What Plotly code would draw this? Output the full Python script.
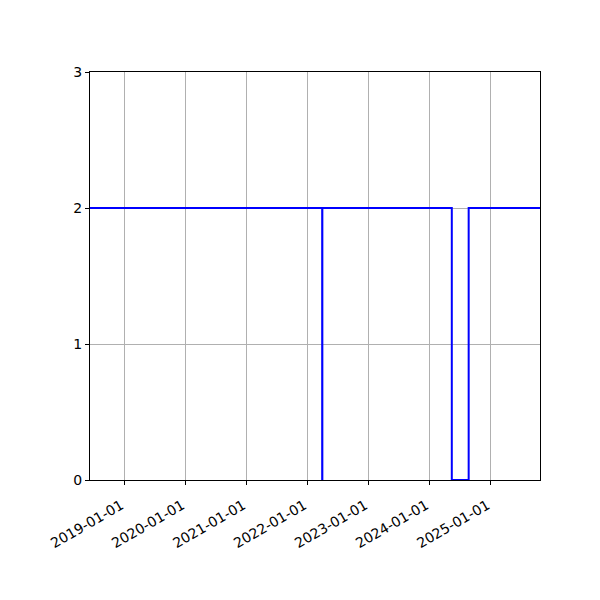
import plotly.graph_objects as go

dates = ["2018-06-10", "2022-03-31", "2022-04-01", "2024-05-15", "2024-08-24", "2025-10-25"]
values = [2, 0, 2, 0, 2, 2]
tick_dates = ["2019-01-01", "2020-01-01", "2021-01-01", "2022-01-01",
              "2023-01-01", "2024-01-01", "2025-01-01"]
y_ticks = [0, 1, 2, 3]

fig = go.Figure()
fig.add_trace(go.Scatter(x=dates, y=values, mode="lines", line_shape="hv",
                         line=dict(color="#0000ff", width=2), showlegend=False))

font = dict(family="DejaVu Sans", size=14, color="black")
fig.update_layout(
    width=600, height=600,
    margin=dict(l=82, r=68, t=64, b=128, autoexpand=False),
    plot_bgcolor="white", paper_bgcolor="white",
    font=font,
    xaxis=dict(range=[dates[0], dates[-1]], tickvals=tick_dates, ticktext=tick_dates,
               tickangle=-30, showgrid=True, gridcolor="#b0b0b0", gridwidth=1,
               showline=True, linecolor="black", linewidth=1, mirror=True,
               ticks="outside", ticklen=4, tickcolor="black", zeroline=False,
               ticklabelstandoff=7, ticklabelshift=-3),
    yaxis=dict(range=[0, 3], tickvals=y_ticks, showgrid=True, gridcolor="#b0b0b0",
               gridwidth=1, showline=True, linecolor="black", linewidth=1, mirror=True,
               ticks="outside", ticklen=4, tickcolor="black", zeroline=False),
)
fig.write_html("out.html")
